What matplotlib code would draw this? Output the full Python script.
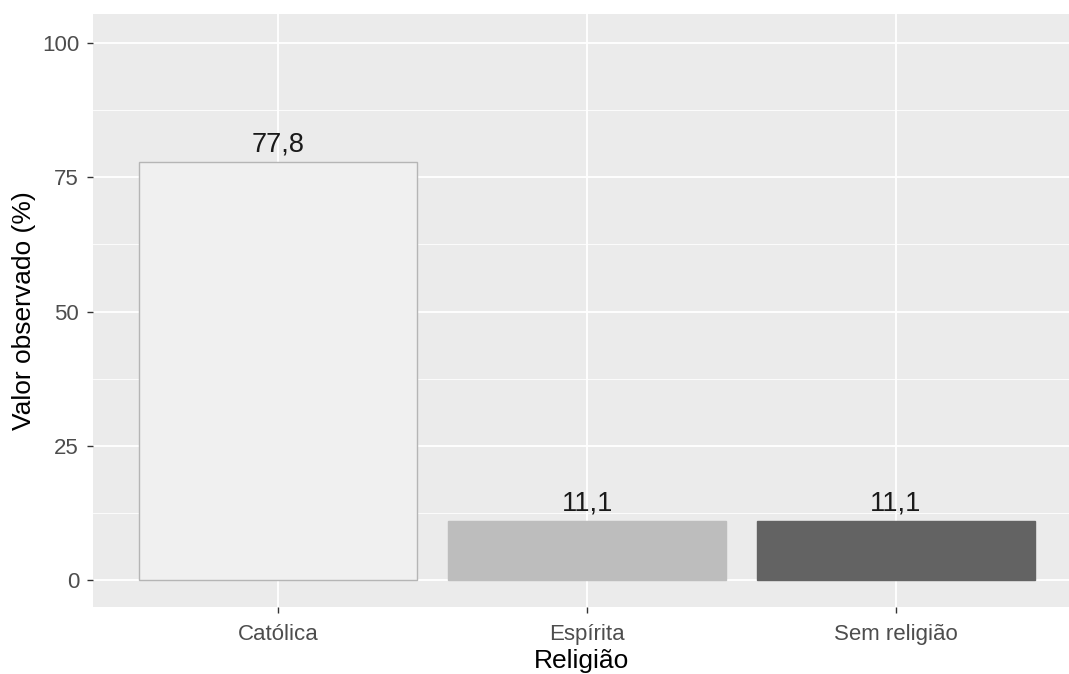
import matplotlib
matplotlib.use("Agg")
import matplotlib.pyplot as plt
from matplotlib.ticker import MultipleLocator

plt.rcParams["font.family"] = ["Liberation Sans", "DejaVu Sans"]

religioes = ["Católica", "Espírita", "Sem religião"]
valores = [77.8, 11.1, 11.1]
rotulos = ["77,8", "11,1", "11,1"]
cores = ["#F0F0F0", "#BDBDBD", "#636363"]
bordas = ["#B5B5B5", "#BDBDBD", "#636363"]
yticks = [0, 25, 50, 75, 100]

fig = plt.figure(figsize=(10.69, 6.74), dpi=100)
ax = fig.add_axes([0.087, 0.0994, 0.913, 0.8798])
ax.set_facecolor("#EBEBEB")

x = list(range(len(religioes)))
ax.bar(x, valores, width=0.9, color=cores, edgecolor=bordas, linewidth=1.0, zorder=3)
for xi, v, r in zip(x, valores, rotulos):
    ax.text(xi, v + 0.8, r, ha="center", va="bottom", fontsize=19.5, color="#1A1A1A", zorder=4)

ax.set_xlim(-0.6, 2.56)
ax.set_ylim(-5, 105.4)
ax.set_xticks(x)
ax.set_xticklabels(religioes)
ax.set_yticks(yticks)
ax.yaxis.set_minor_locator(MultipleLocator(12.5))
ax.grid(which="major", color="white", linewidth=1.3, zorder=0)
ax.grid(which="minor", axis="y", color="white", linewidth=0.6, zorder=0)
ax.set_axisbelow(True)
for s in ax.spines.values():
    s.set_visible(False)
ax.tick_params(which="major", length=4, width=1, color="#333333", labelsize=16, labelcolor="#4D4D4D")
ax.tick_params(axis="x", pad=8)
ax.tick_params(axis="y", pad=6)
ax.tick_params(which="minor", length=0)

ax.set_xlabel("Religião", fontsize=19, labelpad=3)
ax.set_ylabel("Valor observado (%)", fontsize=19, labelpad=4)

fig.savefig("out.png", dpi=100)
